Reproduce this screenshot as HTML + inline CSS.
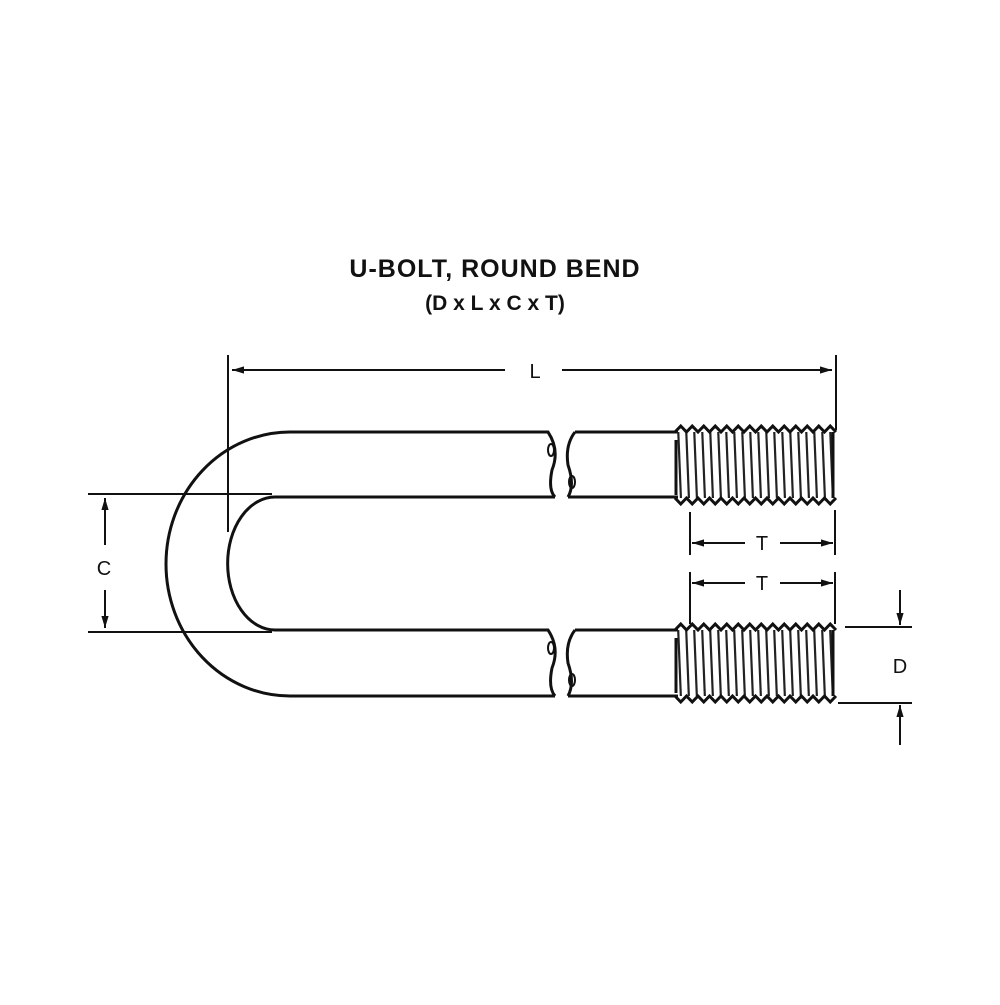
<!DOCTYPE html>
<html><head><style>body{margin:0;background:#fff}</style></head><body>
<svg width="1000" height="1000" viewBox="0 0 1000 1000" xmlns="http://www.w3.org/2000/svg">
<defs>
<marker id="a" viewBox="0 0 10 10" refX="10" refY="5" markerWidth="12" markerHeight="6" orient="auto-start-reverse"><path d="M0,2 L10,5 L0,8 z" fill="#111"/></marker>
<pattern id="th" x="675" y="0" width="8" height="100" patternUnits="userSpaceOnUse"><path d="M2,0 L6,100" stroke="#222" stroke-width="2.2"/></pattern>
</defs>
<g font-family="Liberation Sans, sans-serif" font-weight="bold" fill="#111" text-anchor="middle">
<text x="495" y="277" font-size="25" letter-spacing="1">U-BOLT, ROUND BEND</text>
<text x="495" y="310" font-size="21">(D x L x C x T)</text>
</g>
<g fill="none" stroke="#111" stroke-width="3">
<path d="M290,432 A124,132 0 0 0 290,696"/>
<path d="M275,497 A47,66 0 0 0 275,630"/>
<path d="M290,432 H548 Q560,450 552,470 Q548,490 555,497 M275,497 H555"/>
<path d="M575,432 Q565,445 568,465 Q575,485 568,497 M575,432 H678 M568,497 H678"/>
<path d="M275,630 H548 Q560,648 552,668 Q548,688 555,696 M290,696 H555"/>
<path d="M575,630 Q565,643 568,663 Q575,683 568,696 M575,630 H678 M568,696 H678"/>
</g>
<g fill="none" stroke="#111" stroke-width="2">
<ellipse cx="551" cy="450" rx="3" ry="6"/><ellipse cx="572" cy="482" rx="3" ry="6"/>
<ellipse cx="551" cy="648" rx="3" ry="6"/><ellipse cx="572" cy="680" rx="3" ry="6"/>
</g>
<rect x="675" y="432" width="158" height="66" fill="url(#th)"/>
<rect x="675" y="630" width="158" height="66" fill="url(#th)"/>
<g fill="none" stroke="#111" stroke-width="3">
<path d="M675,432 l5.75,-6 l5.75,6 l5.75,-6 l5.75,6 l5.75,-6 l5.75,6 l5.75,-6 l5.75,6 l5.75,-6 l5.75,6 l5.75,-6 l5.75,6 l5.75,-6 l5.75,6 l5.75,-6 l5.75,6 l5.75,-6 l5.75,6 l5.75,-6 l5.75,6 l5.75,-6 l5.75,6 l5.75,-6 l5.75,6 l5.75,-6 l5.75,6 l5.75,-6 l5.75,6"/>
<path d="M675,498 l5.75,6 l5.75,-6 l5.75,6 l5.75,-6 l5.75,6 l5.75,-6 l5.75,6 l5.75,-6 l5.75,6 l5.75,-6 l5.75,6 l5.75,-6 l5.75,6 l5.75,-6 l5.75,6 l5.75,-6 l5.75,6 l5.75,-6 l5.75,6 l5.75,-6 l5.75,6 l5.75,-6 l5.75,6 l5.75,-6 l5.75,6 l5.75,-6 l5.75,6 l5.75,-6"/>
<path d="M675,630 l5.75,-6 l5.75,6 l5.75,-6 l5.75,6 l5.75,-6 l5.75,6 l5.75,-6 l5.75,6 l5.75,-6 l5.75,6 l5.75,-6 l5.75,6 l5.75,-6 l5.75,6 l5.75,-6 l5.75,6 l5.75,-6 l5.75,6 l5.75,-6 l5.75,6 l5.75,-6 l5.75,6 l5.75,-6 l5.75,6 l5.75,-6 l5.75,6 l5.75,-6 l5.75,6"/>
<path d="M675,696 l5.75,6 l5.75,-6 l5.75,6 l5.75,-6 l5.75,6 l5.75,-6 l5.75,6 l5.75,-6 l5.75,6 l5.75,-6 l5.75,6 l5.75,-6 l5.75,6 l5.75,-6 l5.75,6 l5.75,-6 l5.75,6 l5.75,-6 l5.75,6 l5.75,-6 l5.75,6 l5.75,-6 l5.75,6 l5.75,-6 l5.75,6 l5.75,-6 l5.75,6 l5.75,-6"/>
<path d="M676,440 V495 M676,638 V693 M833,432 V498 M833,630 V696"/>
</g>
<g fill="none" stroke="#111" stroke-width="2">
<path d="M228,355 V532 M836,355 V430"/>
<path d="M232,370 H505" marker-start="url(#a)"/><path d="M562,370 H832" marker-end="url(#a)"/>
<path d="M88,494 H272 M88,632 H272"/>
<path d="M105,545 V498" marker-end="url(#a)"/><path d="M105,590 V628" marker-end="url(#a)"/>
<path d="M690,512 V555 M690,572 V624 M835,510 V555 M835,572 V624"/>
<path d="M692,543 H745" marker-start="url(#a)"/><path d="M780,543 H833" marker-end="url(#a)"/>
<path d="M692,583 H745" marker-start="url(#a)"/><path d="M780,583 H833" marker-end="url(#a)"/>
<path d="M845,627 H912 M838,703 H912"/>
<path d="M900,590 V625" marker-end="url(#a)"/><path d="M900,745 V705" marker-end="url(#a)"/>
</g>
<g font-family="Liberation Sans, sans-serif" font-size="20" fill="#111" text-anchor="middle">
<text x="535" y="378">L</text>
<text x="104" y="575">C</text>
<text x="762" y="550">T</text>
<text x="762" y="590">T</text>
<text x="900" y="673">D</text>
</g>
</svg>
</body></html>
